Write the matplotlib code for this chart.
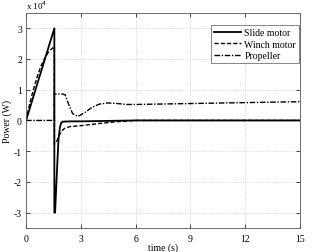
import numpy as np
import matplotlib
matplotlib.use("Agg")
import matplotlib.pyplot as plt

# power traces (values in 1e4 W)
t_slide = [0, 1.55, 1.55, 1.59, 1.65, 1.72, 1.78, 1.85, 1.92, 2.0, 2.5, 3.0, 4.0, 6.0, 15]
p_slide = [0, 3.0, -3.0, -3.0, -2.2, -1.3, -0.6, -0.25, -0.08, -0.04, -0.03, -0.03, -0.02, 0.0, 0.0]

t_winch = [0, 0.2, 0.4, 0.6, 0.8, 1.0, 1.2, 1.4, 1.55, 1.55, 1.68, 1.8, 1.95, 2.1, 2.4,
           3.0, 4.0, 5.0, 6.0, 15]
p_winch = [0, 0.55, 1.0, 1.4, 1.75, 2.0, 2.2, 2.33, 2.4, -0.78, -0.68, -0.5, -0.35, -0.26, -0.2,
           -0.17, -0.1, -0.04, 0.0, 0.0]

t_prop = [0, 1.55, 1.55, 2.0, 2.15, 2.35, 2.55, 2.85, 3.2, 3.6, 4.0, 4.5, 5.0, 5.5, 6.0,
          8.0, 10.0, 12.0, 15]
p_prop = [0, 0, 0.86, 0.86, 0.83, 0.5, 0.22, 0.13, 0.25, 0.42, 0.53, 0.57, 0.55, 0.52, 0.52,
          0.54, 0.56, 0.58, 0.61]

xticks = [0, 3, 6, 9, 12, 15]
yticks = [-3, -2, -1, 0, 1, 2, 3]

plt.rcParams["font.family"] = ["Liberation Serif", "DejaVu Serif"]
plt.rcParams["font.size"] = 7
plt.rcParams["axes.unicode_minus"] = False

fig = plt.figure(figsize=(3.14, 2.53), dpi=100)
ax = fig.add_axes([0.083, 0.095, 0.872, 0.85])

ax.plot(t_slide, p_slide, "k-", lw=1.3, label="Slide motor")
ax.plot(t_winch, p_winch, "k--", lw=1.0, dashes=(3, 1.5), label="Winch motor")
ax.plot(t_prop, p_prop, "k-.", lw=1.0, dashes=(4, 1.2, 1, 1.2), label="Propeller")

ax.set_xlim(0, 15)
ax.set_ylim(-3.5, 3.5)
ax.set_xticks(xticks)
ax.set_yticks(yticks)
ax.tick_params(direction="in", length=3, width=0.5, top=True, right=True, pad=3)
ax.tick_params(axis="x", pad=4)
ax.grid(True, color="#c8c8c8", ls=":", lw=0.6)
for s in ax.spines.values():
    s.set_linewidth(0.6)
    s.set_color("#555555")

ax.set_xlabel("time (s)", labelpad=0)
ax.set_ylabel("Power (W)", labelpad=1)
ax.text(0, 1.008, r"x 10$^4$", transform=ax.transAxes, ha="left", va="bottom", fontsize=6.5)

leg = ax.legend(loc="upper right", bbox_to_anchor=(0.998, 0.945), fancybox=False,
                framealpha=1, edgecolor="#555555", handlelength=2.8, borderpad=0.35,
                labelspacing=0.25, handletextpad=0.3, borderaxespad=0)
leg.get_frame().set_linewidth(0.5)

plt.savefig("out.png", dpi=100)
plt.close()
